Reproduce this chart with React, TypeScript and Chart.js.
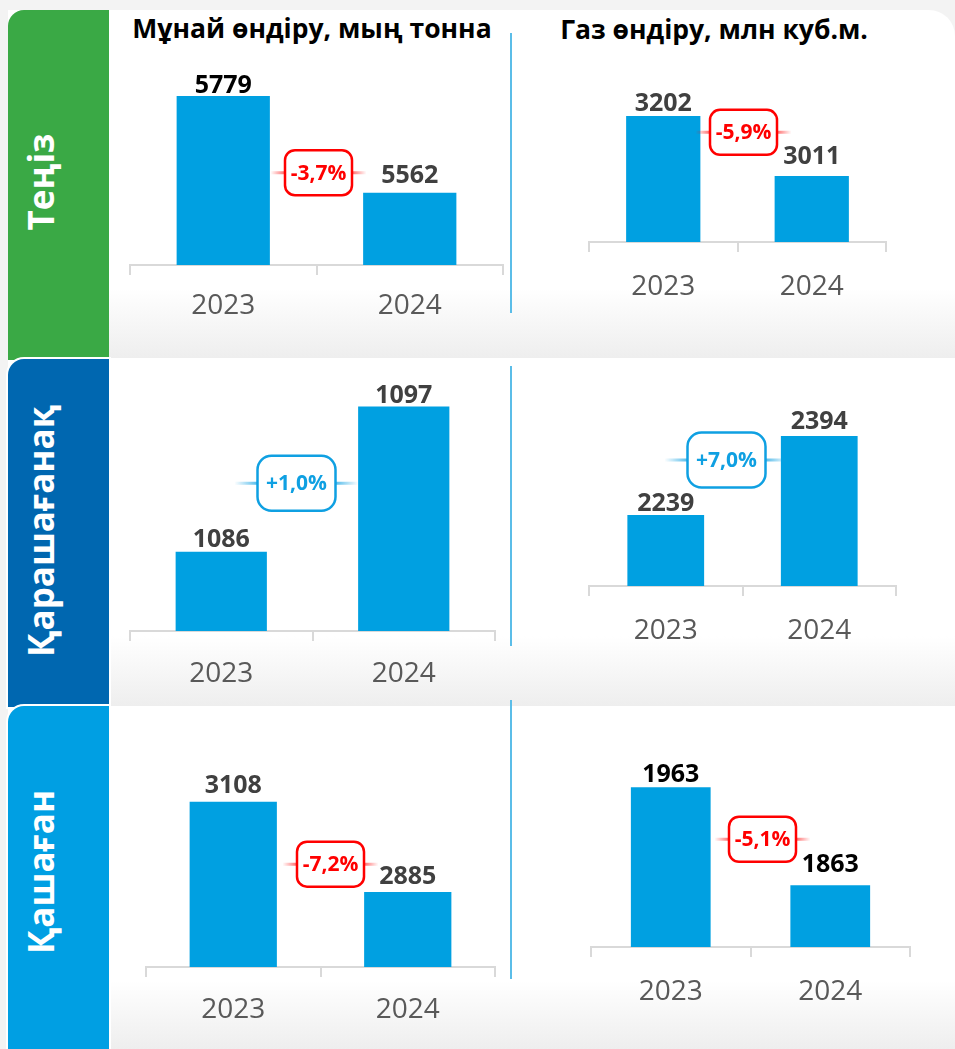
import React, { useEffect, useRef } from 'react';
import { Chart, registerables } from 'chart.js';

Chart.register(...registerables);

// ---------- data ----------
const years = ['2023', '2024'];
const fieldNames = ['Теңіз', 'Қарашағанақ', 'Қашаған'];
const chartTitles = ['Мұнай өндіру, мың тонна', 'Газ өндіру, млн куб.м.'];

const tengizOil = [5779, 5562];
const tengizGas = [3202, 3011];
const karachaganakOil = [1086, 1097];
const karachaganakGas = [2239, 2394];
const kashaganOil = [3108, 2885];
const kashaganGas = [1963, 1863];

const changeLabels = ['-3,7%', '-5,9%', '+1,0%', '+7,0%', '-7,2%', '-5,1%'];
// level (in axis units) where the change connector sits
const changeLevels = [5607, 3150, 1091.2, 2347, 2954, 1910];
const axisMin = [5400, 2800, 1080, 2100, 2700, 1800];
const axisMax = [5900, 3400, 1100, 2600, 3300, 2050];

const seriesList = [tengizOil, tengizGas, karachaganakOil, karachaganakGas, kashaganOil, kashaganGas];

// ---------- layout / styles ----------
const FONT = '"Open Sans", "Noto Sans", sans-serif';
const BAR = '#00A0E1';
const RED = '#ff0000';
const BLUE = '#0fa0e2';

type Layout = {
  left: number; right: number; top: number; base: number;
  labelColors: string[]; labelGap: number[];
  badgeDx: number; yearPad: number;
};

const layouts: Layout[] = [
  { left: 130, right: 503, top: 42, base: 265, labelColors: ['#000000', '#404040'], labelGap: [3, 10], badgeDx: 2, yearPad: 14 },
  { left: 589, right: 886, top: 54, base: 242, labelColors: ['#404040', '#404040'], labelGap: [5, 12], badgeDx: 6, yearPad: 18 },
  { left: 130, right: 495, top: 367, base: 631, labelColors: ['#404040', '#404040'], labelGap: [5, 4], badgeDx: -16, yearPad: 16 },
  { left: 589, right: 896, top: 331, base: 586, labelColors: ['#404040', '#404040'], labelGap: [4, 7], badgeDx: -16, yearPad: 18 },
  { left: 146, right: 495, top: 724, base: 967, labelColors: ['#404040', '#404040'], labelGap: [9, 8], badgeDx: 10, yearPad: 16 },
  { left: 591, right: 910, top: 702, base: 947, labelColors: ['#000000', '#000000'], labelGap: [5, 13], badgeDx: 12, yearPad: 18 },
];

const AXIS_H = 68;
const PAD = 4;

function roundRect(ctx: CanvasRenderingContext2D, x: number, y: number, w: number, h: number, r: number) {
  ctx.beginPath();
  ctx.moveTo(x + r, y);
  ctx.lineTo(x + w - r, y);
  ctx.arcTo(x + w, y, x + w, y + r, r);
  ctx.lineTo(x + w, y + h - r);
  ctx.arcTo(x + w, y + h, x + w - r, y + h, r);
  ctx.lineTo(x + r, y + h);
  ctx.arcTo(x, y + h, x, y + h - r, r);
  ctx.lineTo(x, y + r);
  ctx.arcTo(x, y, x + r, y, r);
  ctx.closePath();
}

function hexA(hex: string, a: number) {
  const n = parseInt(hex.slice(1), 16);
  return `rgba(${(n >> 16) & 255},${(n >> 8) & 255},${n & 255},${a})`;
}

function MiniChart({ idx }: { idx: number }) {
  const ref = useRef<HTMLCanvasElement | null>(null);
  const lay = layouts[idx];
  const values = seriesList[idx];
  const width = lay.right - lay.left + PAD * 2;
  const height = lay.base - lay.top + AXIS_H;

  useEffect(() => {
    if (!ref.current) return;
    const label = changeLabels[idx];
    const positive = label.startsWith('+');
    const col = positive ? BLUE : RED;

    const overlay = {
      id: 'overlay' + idx,
      afterDatasetsDraw(chart: any) {
        const ctx: CanvasRenderingContext2D = chart.ctx;
        const meta = chart.getDatasetMeta(0);
        const y = chart.scales.y;
        // value labels
        meta.data.forEach((bar: any, i: number) => {
          ctx.save();
          ctx.font = `bold 25px ${FONT}`;
          ctx.fillStyle = lay.labelColors[i];
          ctx.textAlign = 'center';
          ctx.textBaseline = 'alphabetic';
          ctx.fillText(String(values[i]), bar.x, bar.y - lay.labelGap[i]);
          ctx.restore();
        });
        // change badge
        const cx = (meta.data[0].x + meta.data[1].x) / 2 + lay.badgeDx;
        const cy = y.getPixelForValue(changeLevels[idx]);
        const bw = positive ? 78 : 67;
        const bh = positive ? 55 : 45;
        const half = positive ? 62 : 48;
        ctx.save();
        const g = ctx.createLinearGradient(cx - half, 0, cx + half, 0);
        g.addColorStop(0, hexA(col, 0));
        g.addColorStop(0.25, hexA(col, 0.95));
        g.addColorStop(0.75, hexA(col, 0.95));
        g.addColorStop(1, hexA(col, 0));
        ctx.strokeStyle = g;
        ctx.lineWidth = 3;
        ctx.beginPath();
        ctx.moveTo(cx - half, cy);
        ctx.lineTo(cx + half, cy);
        ctx.stroke();
        roundRect(ctx, cx - bw / 2, cy - bh / 2, bw, bh, positive ? 14 : 10);
        ctx.fillStyle = '#ffffff';
        ctx.fill();
        ctx.strokeStyle = col;
        ctx.lineWidth = 2.5;
        ctx.stroke();
        ctx.fillStyle = col;
        ctx.font = `bold 21px ${FONT}`;
        ctx.textAlign = 'center';
        ctx.textBaseline = 'middle';
        ctx.fillText(label, cx, cy + 1);
        ctx.restore();
      },
    };

    const chart = new Chart(ref.current, {
      type: 'bar',
      data: {
        labels: years,
        datasets: [{
          data: values,
          backgroundColor: BAR,
          borderWidth: 0,
          barPercentage: 0.5,
          categoryPercentage: 1,
        }],
      },
      options: {
        animation: false,
        responsive: false,
        maintainAspectRatio: false,
        devicePixelRatio: 1,
        layout: { padding: { left: PAD, right: PAD, top: 0, bottom: 0 } },
        plugins: { legend: { display: false }, tooltip: { enabled: false }, title: { display: false } },
        scales: {
          x: {
            grid: { display: true, drawOnChartArea: false, drawTicks: true, tickLength: 10, color: '#d9d9d9', lineWidth: 2, offset: true },
            border: { display: true, color: '#d9d9d9', width: 2 },
            ticks: { color: '#595959', font: { family: FONT, size: 28 }, padding: lay.yearPad },
            afterFit: (s: any) => { s.height = AXIS_H; },
          },
          y: { display: false, min: axisMin[idx], max: axisMax[idx] },
        },
      },
      plugins: [overlay],
    } as any);
    return () => chart.destroy();
  }, [idx]);

  return (
    <canvas
      ref={ref}
      width={width}
      height={height}
      style={{ position: 'absolute', left: lay.left - PAD, top: lay.top, width, height }}
    />
  );
}

const sections = [
  { top: 10, height: 348, tab: '#3aa945', tabTop: 10, tabH: 350, labelY: 182, shadow: false },
  { top: 358, height: 348, tab: '#0067b0', tabTop: 359, tabH: 348, labelY: 531, shadow: true },
  { top: 706, height: 343, tab: '#009fe3', tabTop: 706, tabH: 345, labelY: 872, shadow: true },
];
const dividers = [
  { top: 33, h: 280 },
  { top: 366, h: 280 },
  { top: 700, h: 279 },
];

export default function App() {
  return (
    <div style={{ position: 'absolute', left: 0, top: 0, width: 955, height: 1049, overflow: 'hidden', background: '#f3f3f3', fontFamily: FONT }}>
      {sections.map((s, i) => (
        <div key={'s' + i} style={{
          position: 'absolute', left: 8, top: s.top, width: 947, height: s.height,
          borderTopRightRadius: i === 0 ? 26 : 0,
          background: 'linear-gradient(to bottom, #ffffff 0%, #ffffff 80%, #eeeeee 100%)',
        }} />
      ))}
      {sections.map((s, i) => (
        <div key={'t' + i} style={{
          position: 'absolute', left: 8, top: s.tabTop, width: 101, height: s.tabH,
          background: s.tab, borderTopLeftRadius: 16,
          boxShadow: s.shadow ? '0 0 0 2px #ffffff' : 'none',
        }} />
      ))}
      {fieldNames.map((n, i) => (
        <div key={'n' + i} style={{
          position: 'absolute', left: 40, top: sections[i].labelY,
          transform: 'translate(-50%, -50%) rotate(-90deg)',
          whiteSpace: 'nowrap', color: '#ffffff', fontWeight: 700, fontSize: 35, lineHeight: 1,
        }}>{n}</div>
      ))}
      {dividers.map((d, i) => (
        <div key={'d' + i} style={{ position: 'absolute', left: 510, top: d.top, width: 2, height: d.h, background: '#5bbde8' }} />
      ))}
      <div style={{ position: 'absolute', left: 112, top: 15, width: 400, textAlign: 'center', fontWeight: 700, fontSize: 26.5, lineHeight: 1, color: '#000', whiteSpace: 'nowrap' }}>{chartTitles[0]}</div>
      <div style={{ position: 'absolute', left: 514, top: 16, width: 400, textAlign: 'center', fontWeight: 700, fontSize: 26.5, lineHeight: 1, color: '#000', whiteSpace: 'nowrap' }}>{chartTitles[1]}</div>
      {layouts.map((_, i) => <MiniChart key={i} idx={i} />)}
    </div>
  );
}
